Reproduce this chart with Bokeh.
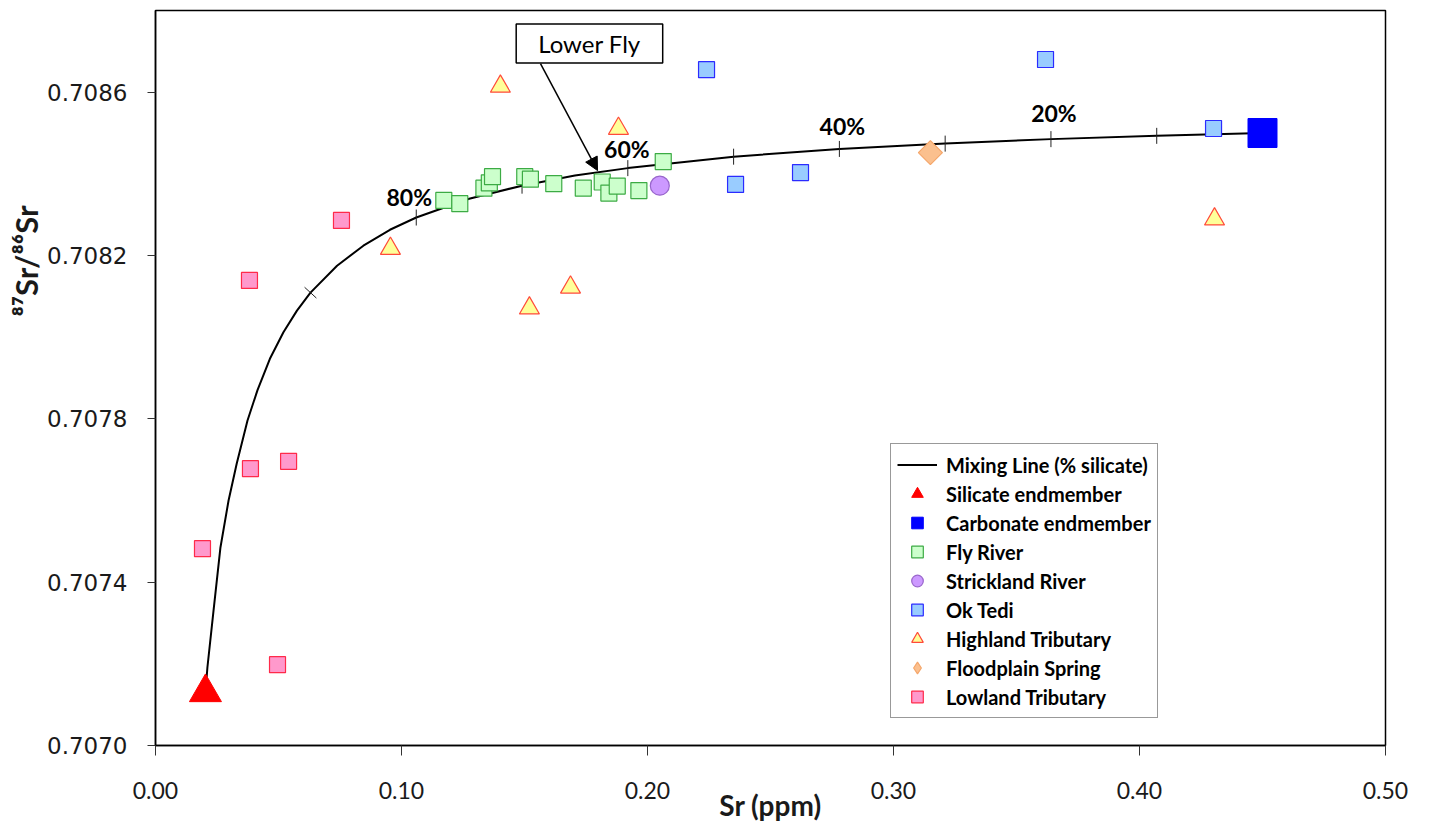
from math import pi
from bokeh.plotting import figure
from bokeh.models import (Range1d, FixedTicker, NumeralTickFormatter, Legend,
                          LegendItem, Label, Arrow, NormalHead, Title)
from bokeh.embed import file_html
from bokeh.resources import INLINE

# ---------------- data ----------------
mix_sr = [0.0203, 0.0211, 0.0236, 0.0264, 0.0297, 0.0330, 0.0374, 0.0415,
          0.0465, 0.0520, 0.0575, 0.0630, 0.0738, 0.0845, 0.0953, 0.1060,
          0.1275, 0.1490, 0.1705, 0.1920, 0.2350, 0.2780, 0.3210, 0.3640,
          0.4070, 0.4500]
mix_ratio = [0.707130, 0.707191, 0.707331, 0.707485, 0.707600, 0.707690,
             0.707796, 0.707871, 0.707947, 0.708012, 0.708065, 0.708109,
             0.708175, 0.708224, 0.708263, 0.708293, 0.708339, 0.708371,
             0.708396, 0.708414, 0.708442, 0.708461, 0.708474, 0.708485,
             0.708493, 0.708500]

tick_pct = [90, 80, 70, 60, 50, 40, 30, 20, 10]
tick_sr = [0.0630, 0.1060, 0.1490, 0.1920, 0.2350, 0.2780, 0.3210, 0.3640, 0.4070]
tick_ratio = [0.708109, 0.708293, 0.708371, 0.708414, 0.708442, 0.708461,
              0.708474, 0.708485, 0.708493]
pct_labels = ["80%", "60%", "40%", "20%"]

sil_sr = [0.0203]
sil_ratio = [0.70713]
carb_sr = [0.4500]
carb_ratio = [0.70850]

fly_sr = [0.1172, 0.1237, 0.1335, 0.1357, 0.1370, 0.1501, 0.1524, 0.1619,
          0.1739, 0.1816, 0.1843, 0.1877, 0.1965, 0.2064]
fly_ratio = [0.708335, 0.708327, 0.708365, 0.708378, 0.708393, 0.708393,
             0.708387, 0.708376, 0.708365, 0.708380, 0.708353, 0.708370,
             0.708359, 0.708430]

strick_sr = [0.2050]
strick_ratio = [0.708371]

ok_sr = [0.2240, 0.3618, 0.4301, 0.2358, 0.2622]
ok_ratio = [0.708655, 0.708680, 0.708511, 0.708374, 0.708403]

high_sr = [0.1402, 0.1882, 0.0955, 0.1520, 0.1687, 0.4305]
high_ratio = [0.708614, 0.708511, 0.708217, 0.708071, 0.708122, 0.708289]

flood_sr = [0.3150]
flood_ratio = [0.708452]

low_sr = [0.0756, 0.0382, 0.0386, 0.0541, 0.0191, 0.0496]
low_ratio = [0.708286, 0.708139, 0.707678, 0.707696, 0.707482, 0.707198]

x_ticks = [0.0, 0.1, 0.2, 0.3, 0.4, 0.5]
y_ticks = [0.7070, 0.7074, 0.7078, 0.7082, 0.7086]

# ---------------- figure ----------------
p = figure(width=1414, height=826,
           x_range=Range1d(0.0, 0.5), y_range=Range1d(0.7070, 0.7088),
           output_backend="svg", toolbar_location=None,
           min_border_left=155, min_border_right=29,
           min_border_top=10, min_border_bottom=81,
           background_fill_color="white", border_fill_color="white")

p.xgrid.visible = False
p.ygrid.visible = False
p.outline_line_color = "black"
p.outline_line_width = 1.5
p.outline_line_alpha = 1.0

xa = p.xaxis[0]
xa.ticker = FixedTicker(ticks=x_ticks, minor_ticks=[])
xa.formatter = NumeralTickFormatter(format="0.00")
xa.major_label_text_font = "Lato"
xa.major_label_text_font_size = "23px"
xa.major_label_text_color = "#1a1a1a"
xa.major_label_standoff = 26
xa.major_tick_out = 10
xa.major_tick_in = 0
xa.minor_tick_line_color = None
xa.axis_line_color = "black"
xa.axis_line_width = 1.5
xa.major_tick_line_color = "#333333"
xa.axis_label = "Sr (ppm)"
xa.axis_label_text_font = "Lato"
xa.axis_label_text_font_style = "bold"
xa.axis_label_text_font_size = "28px"
xa.axis_label_text_color = "#1a1a1a"
xa.axis_label_standoff = -14

ya = p.yaxis[0]
ya.ticker = FixedTicker(ticks=y_ticks, minor_ticks=[])
ya.formatter = NumeralTickFormatter(format="0.0000")
ya.major_label_text_font = "DejaVu Sans"
ya.major_label_text_font_size = "23px"
ya.major_label_text_color = "#1a1a1a"
ya.major_label_standoff = 20
ya.major_tick_out = 8
ya.major_tick_in = 0
ya.minor_tick_line_color = None
ya.axis_line_color = "black"
ya.axis_line_width = 1.5
ya.major_tick_line_color = "#333333"

p.add_layout(Title(text="⁸⁷Sr/⁸⁶Sr", align="right", offset=195,
                   text_font="Lato", text_font_style="bold",
                   text_font_size="31px", text_color="#1a1a1a",
                   standoff=0), "left")

# mixing line + % ticks
mix_r = p.line(mix_sr, mix_ratio, line_color="black", line_width=2)
tick_angles = [2.4] + [pi / 2] * (len(tick_sr) - 1)
p.scatter(tick_sr, tick_ratio, marker="dash", size=16, angle=tick_angles,
          line_color="#222222", line_width=1)

# samples
fly_r = p.scatter(fly_sr, fly_ratio, marker="square", size=16,
                  fill_color="#ccffcc", line_color="#3cab44", line_width=1.2)
strick_r = p.scatter(strick_sr, strick_ratio, marker="circle", size=19,
                     fill_color="#cc99ff", line_color="#9966cc", line_width=1.2)
ok_r = p.scatter(ok_sr, ok_ratio, marker="square", size=16,
                 fill_color="#99ccff", line_color="#2b2bff", line_width=1.2)
high_r = p.scatter(high_sr, high_ratio, marker="triangle", size=20,
                   fill_color="#ffff99", line_color="#ff4a3a", line_width=1.2)
# diamond key for the legend, drawn beneath the rotated-square marker
flood_key = p.scatter(flood_sr, flood_ratio, marker="diamond", size=17,
                      fill_color="#fbc08e", line_color="#f5a66a", line_width=1.2)
p.scatter(flood_sr, flood_ratio, marker="square", size=17, angle=pi / 4,
          fill_color="#fbc08e", line_color="#f5a66a", line_width=1.2)
low_r = p.scatter(low_sr, low_ratio, marker="square", size=16,
                  fill_color="#ff99cc", line_color="#ff2a4a", line_width=1.2)
sil_r = p.scatter(sil_sr, sil_ratio, marker="triangle", size=32,
                  fill_color="#ff0000", line_color="#ff0000")
carb_r = p.scatter(carb_sr, carb_ratio, marker="square", size=29,
                   fill_color="#0000ff", line_color="#0000ff")

# percent labels above the curve ticks
pct_idx = [1, 3, 5, 7]
pct_dx = [-7, -1, 3, 3]
pct_dy = [21, 19, 23, 26]
for lab, i, dx, dy in zip(pct_labels, pct_idx, pct_dx, pct_dy):
    p.add_layout(Label(x=tick_sr[i], y=tick_ratio[i], text=lab,
                       x_offset=dx, y_offset=dy,
                       text_align="center", text_baseline="middle",
                       text_font="Lato", text_font_style="bold",
                       text_font_size="23px", text_color="black"))

# Lower Fly call-out
p.add_layout(Arrow(end=NormalHead(size=13, fill_color="black", line_color="black"),
                   x_start=0.1565, y_start=0.708670, x_end=0.1797, y_end=0.708408,
                   line_color="black", line_width=1.5))
p.add_layout(Label(x=0.1764, y=0.708719, text="Lower Fly",
                   text_align="center", text_baseline="middle",
                   text_font="Lato", text_font_size="24px", text_color="black",
                   border_line_color="black", border_line_width=1.5,
                   background_fill_color="white",
                   padding=dict(left=22, right=22, top=5, bottom=5)))

# legend
legend = Legend(items=[
    LegendItem(label="Mixing Line (% silicate)", renderers=[mix_r]),
    LegendItem(label="Silicate endmember", renderers=[sil_r]),
    LegendItem(label="Carbonate endmember", renderers=[carb_r]),
    LegendItem(label="Fly River", renderers=[fly_r]),
    LegendItem(label="Strickland River", renderers=[strick_r]),
    LegendItem(label="Ok Tedi", renderers=[ok_r]),
    LegendItem(label="Highland Tributary", renderers=[high_r]),
    LegendItem(label="Floodplain Spring", renderers=[flood_key]),
    LegendItem(label="Lowland Tributary", renderers=[low_r]),
], location=(735, 27), orientation="vertical",
    glyph_width=40, glyph_height=29, spacing=0, padding=6, margin=0,
    label_standoff=9, label_height=20,
    label_text_font="Lato", label_text_font_style="bold",
    label_text_font_size="20px", label_text_color="black",
    border_line_color="#333333", border_line_width=1.2,
    background_fill_color="white", background_fill_alpha=1.0)
p.add_layout(legend)

open("out.html", "w").write(file_html(p, INLINE))
